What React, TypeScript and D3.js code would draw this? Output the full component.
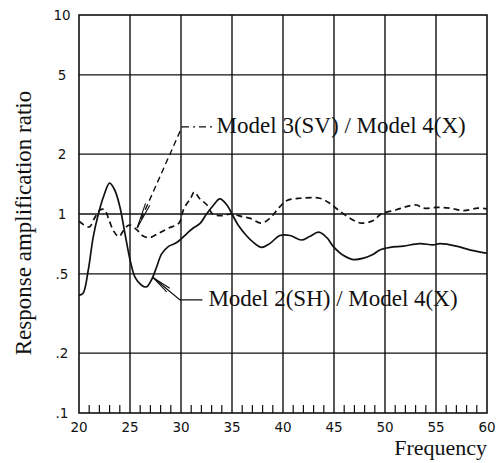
import { useEffect, useRef } from 'react';
import * as d3 from 'd3';

// Model 2(SH) / Model 4(X) — solid
const shFreq = [20, 20.4, 20.9, 21.4, 21.9, 22.4, 23.0, 23.5, 24.0, 24.5, 25.0, 25.5, 26.1, 26.6, 27.1, 27.6, 28.1, 28.75, 29.4, 29.9, 30.6, 31.2, 31.9, 32.5, 33.2, 33.8, 34.5, 35.0, 35.6, 36.4, 37.1, 37.9, 38.7, 39.7, 40.7, 41.8, 42.6, 43.5, 44.3, 44.9, 45.9, 46.9, 47.9, 48.9, 49.5, 50.5, 51.8, 53.4, 54.7, 55.4, 57.0, 58.3, 59.6, 60];
const shRatio = [0.39, 0.4, 0.52, 0.77, 1.0, 1.22, 1.43, 1.32, 1.09, 0.8, 0.59, 0.48, 0.44, 0.43, 0.466, 0.54, 0.63, 0.686, 0.71, 0.74, 0.8, 0.85, 0.9, 1.0, 1.11, 1.19, 1.11, 1.0, 0.88, 0.78, 0.72, 0.68, 0.71, 0.78, 0.78, 0.74, 0.77, 0.81, 0.76, 0.69, 0.62, 0.59, 0.6, 0.63, 0.66, 0.68, 0.69, 0.71, 0.7, 0.71, 0.69, 0.66, 0.64, 0.635];

// Model 3(SV) / Model 4(X) — dashed
const svFreq = [20, 21.0, 21.5, 22.1, 22.5, 22.95, 23.4, 23.9, 24.4, 24.9, 25.7, 26.2, 26.9, 27.8, 28.8, 29.8, 30.3, 30.95, 31.3, 31.8, 32.55, 33.1, 34.0, 34.9, 36.0, 36.8, 37.9, 38.7, 39.7, 40.4, 41.7, 43.6, 44.6, 45.3, 46.6, 47.7, 48.9, 49.6, 51.1, 52.1, 53.1, 53.75, 55.1, 56.4, 57.7, 59.1, 60];
const svRatio = [0.92, 0.86, 0.95, 1.05, 1.05, 0.93, 0.82, 0.77, 0.83, 0.88, 0.83, 0.78, 0.76, 0.8, 0.85, 0.9, 1.07, 1.2, 1.29, 1.2, 1.11, 1.0, 0.98, 1.0, 0.97, 0.95, 0.9, 0.95, 1.09, 1.17, 1.2, 1.2, 1.13, 1.06, 0.95, 0.9, 0.93, 1.0, 1.05, 1.09, 1.11, 1.07, 1.08, 1.07, 1.04, 1.07, 1.06];

const xTicks = [20, 25, 30, 35, 40, 45, 50, 55, 60];
const yTicks = [0.1, 0.2, 0.5, 1, 2, 5, 10];
const yTickLabels = ['.1', '.2', '.5', '1', '2', '5', '10'];

// leader lines: [tip, elbow, end] in data units, label text
const svLeader = [[25.7, 0.85], [30.1, 2.74], [33.1, 2.74]];
const svLabel = 'Model 3(SV) / Model 4(X)';
const shLeader = [[27.25, 0.48], [29.9, 0.37], [32.1, 0.37]];
const shLabel = 'Model 2(SH) / Model 4(X)';

export default function App() {
  const svgRef = useRef<SVGSVGElement>(null);

  useEffect(() => {
    if (!svgRef.current) return;
    const svg = d3.select(svgRef.current);
    svg.selectAll('*').remove();

    const width = 497;
    const height = 463;
    const margin = { top: 15, right: 10, bottom: 50, left: 79 };
    const w = width - margin.left - margin.right;
    const h = height - margin.top - margin.bottom;
    const ink = '#111';
    const serif = 'Liberation Serif, Times New Roman, serif';
    const tickFont = 'DejaVu Sans, sans-serif';

    const x = d3.scaleLinear().domain([20, 60]).range([0, w]);
    const y = d3.scaleLog().domain([0.1, 10]).range([h, 0]);

    const g = svg.append('g').attr('transform', `translate(${margin.left},${margin.top})`);

    // grid
    g.selectAll('line.vgrid')
      .data(xTicks.slice(1, -1))
      .join('line')
      .attr('x1', d => x(d)).attr('x2', d => x(d))
      .attr('y1', 0).attr('y2', h)
      .attr('stroke', ink).attr('stroke-width', 1.4);

    g.selectAll('line.hgrid')
      .data(yTicks.slice(1, -1))
      .join('line')
      .attr('x1', 0).attr('x2', w)
      .attr('y1', d => y(d)).attr('y2', d => y(d))
      .attr('stroke', ink).attr('stroke-width', 1.4);

    g.append('rect')
      .attr('width', w).attr('height', h)
      .attr('fill', 'none').attr('stroke', ink).attr('stroke-width', 1.6);

    // minor ticks on the bottom edge
    const minor = d3.range(21, 60).filter(d => d % 5 !== 0);
    g.selectAll('line.minor')
      .data(minor)
      .join('line')
      .attr('x1', d => x(d)).attr('x2', d => x(d))
      .attr('y1', h).attr('y2', h - 8)
      .attr('stroke', ink).attr('stroke-width', 1.2);

    // tick labels
    g.selectAll('text.xt')
      .data(xTicks)
      .join('text')
      .attr('x', d => x(d)).attr('y', h + 19)
      .attr('text-anchor', 'middle')
      .attr('font-family', tickFont).attr('font-size', '13.5px').attr('fill', ink)
      .text(d => d);

    g.selectAll('text.yt')
      .data(yTicks)
      .join('text')
      .attr('x', -17).attr('y', d => y(d))
      .attr('text-anchor', 'middle').attr('dominant-baseline', 'central')
      .attr('font-family', tickFont).attr('font-size', '13.5px').attr('fill', ink)
      .text((d, i) => yTickLabels[i]);

    // axis titles
    svg.append('text')
      .attr('transform', `translate(31,223) rotate(-90)`)
      .attr('text-anchor', 'middle')
      .attr('font-family', serif).attr('font-size', '23px').attr('fill', ink)
      .text('Response amplification ratio');

    svg.append('text')
      .attr('x', 487).attr('y', 455)
      .attr('text-anchor', 'end')
      .attr('font-family', serif).attr('font-size', '22px').attr('fill', ink)
      .text('Frequency');

    // curves
    const line = d3.line<[number, number]>()
      .x(d => x(d[0]))
      .y(d => y(d[1]))
      .curve(d3.curveCatmullRom.alpha(0.5));

    const sh = shFreq.map((f, i) => [f, shRatio[i]] as [number, number]);
    const sv = svFreq.map((f, i) => [f, svRatio[i]] as [number, number]);

    g.append('path')
      .attr('d', line(sv))
      .attr('fill', 'none').attr('stroke', ink).attr('stroke-width', 1.7)
      .attr('stroke-dasharray', '6,4');

    g.append('path')
      .attr('d', line(sh))
      .attr('fill', 'none').attr('stroke', ink).attr('stroke-width', 1.7);

    // leaders with narrow open arrowheads
    const arrowHead = (tip: number[], from: number[], len: number, spread: number) => {
      const tx = x(tip[0]), ty = y(tip[1]);
      const fx = x(from[0]), fy = y(from[1]);
      const a = Math.atan2(fy - ty, fx - tx);
      const p1 = [tx + len * Math.cos(a + spread), ty + len * Math.sin(a + spread)];
      const p2 = [tx + len * Math.cos(a - spread), ty + len * Math.sin(a - spread)];
      g.append('path')
        .attr('d', `M${p1[0]},${p1[1]}L${tx},${ty}L${p2[0]},${p2[1]}`)
        .attr('fill', 'none').attr('stroke', ink).attr('stroke-width', 1.1);
    };

    // SV leader
    g.append('line')
      .attr('x1', x(svLeader[0][0])).attr('y1', y(svLeader[0][1]))
      .attr('x2', x(svLeader[1][0])).attr('y2', y(svLeader[1][1]))
      .attr('stroke', ink).attr('stroke-width', 1.4).attr('stroke-dasharray', '6,4');
    g.append('line')
      .attr('x1', x(svLeader[1][0])).attr('y1', y(svLeader[1][1]))
      .attr('x2', x(svLeader[2][0])).attr('y2', y(svLeader[2][1]))
      .attr('stroke', ink).attr('stroke-width', 1.4).attr('stroke-dasharray', '7,4,2,4');
    arrowHead(svLeader[0], svLeader[1], 26, 0.09);
    g.append('text')
      .attr('x', x(svLeader[2][0]) + 4).attr('y', y(svLeader[2][1]) + 6)
      .attr('font-family', serif).attr('font-size', '23px').attr('fill', ink)
      .text(svLabel);

    // SH leader
    g.append('path')
      .attr('d', d3.line()(shLeader.map(p => [x(p[0]), y(p[1])] as [number, number])))
      .attr('fill', 'none').attr('stroke', ink).attr('stroke-width', 1.3);
    arrowHead(shLeader[0], shLeader[1], 20, 0.12);
    g.append('text')
      .attr('x', x(shLeader[2][0]) + 6).attr('y', y(shLeader[2][1]) + 6)
      .attr('font-family', serif).attr('font-size', '23px').attr('fill', ink)
      .text(shLabel);
  }, []);

  return (
    <svg
      ref={svgRef}
      width={497}
      height={463}
      style={{ position: 'absolute', left: 0, top: 0, background: '#fff' }}
    />
  );
}
